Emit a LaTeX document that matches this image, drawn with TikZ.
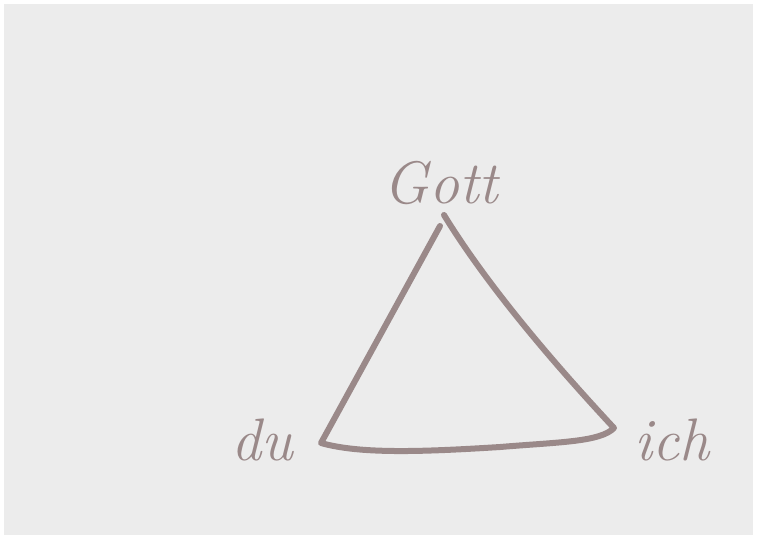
\documentclass[tikz,border=0pt]{standalone}
\definecolor{ink}{HTML}{9A8989}
\definecolor{bg}{HTML}{ECECEC}
\tikzset{
  lbl/.style={text=ink, font=\fontsize{60}{62}\selectfont\itshape, inner sep=0pt},
  stroke/.style={draw=ink, line width=6pt, line cap=round, line join=round}
}
\begin{document}
\begin{tikzpicture}[x=1pt,y=-1pt]
\fill[white] (0,0) rectangle (757,539);
\fill[bg] (4,4) rectangle (753,535);
\useasboundingbox (0,0) rectangle (757,539);
\node[lbl] (gott) at (441,183) {Gott};
\node[lbl] (du) at (262,440) {du};
\node[lbl] (ich) at (672,440) {ich};
\coordinate (top1) at (440,226);
\coordinate (left) at (321,443);
\coordinate (right) at (614,428);
\coordinate (top2) at (444,215);
\draw[stroke] (top1) -- (left)
  .. controls (360,454) and (420,452) .. (500,447)
  .. controls (560,442) and (600,442) .. (right)
  .. controls (560,370) and (490,290) .. (top2);
\end{tikzpicture}
\end{document}
